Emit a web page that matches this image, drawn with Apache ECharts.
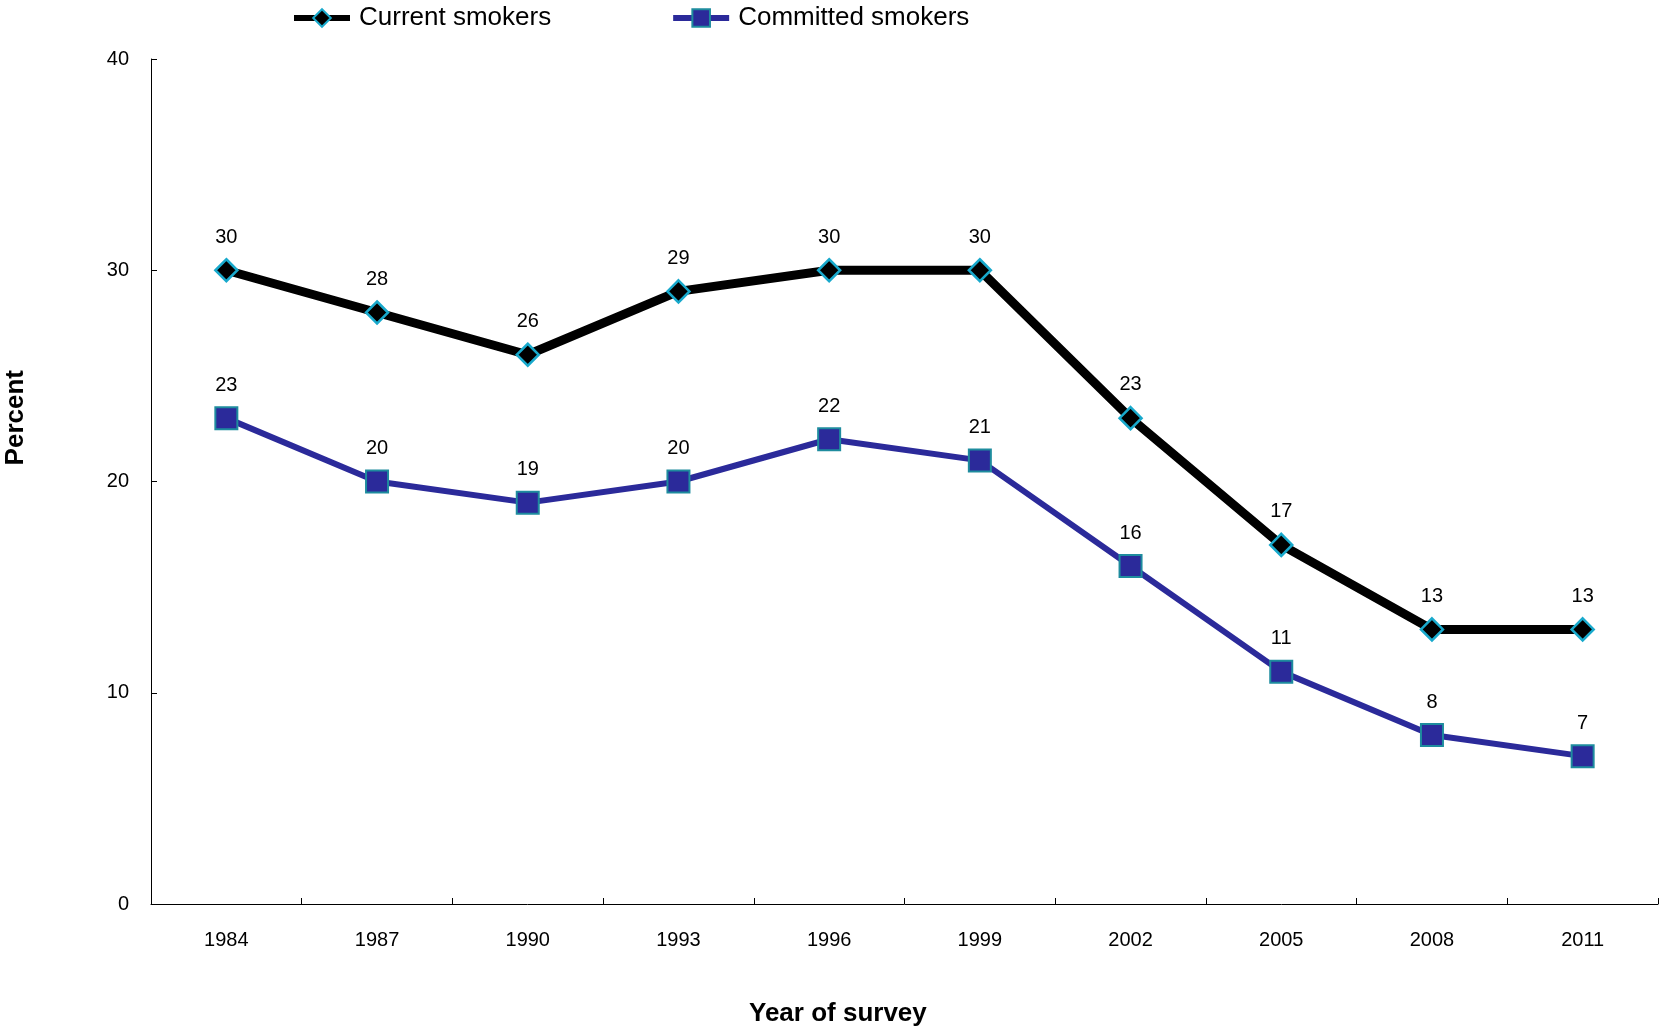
<!DOCTYPE html>
<html>
<head>
<meta charset="utf-8">
<script src="https://cdn.jsdelivr.net/npm/echarts@6/dist/echarts.min.js"></script>
<style>
  html, body { margin: 0; padding: 0; background: #fff; }
  #chart { width: 1661px; height: 1031px; }
</style>
</head>
<body>
<div id="chart"></div>
<script>
// Survey years and smoking prevalence (percent)
const years = ['1984', '1987', '1990', '1993', '1996', '1999', '2002', '2005', '2008', '2011'];
const currentSmokers = [30, 28, 26, 29, 30, 30, 23, 17, 13, 13];
const committedSmokers = [23, 20, 19, 20, 22, 21, 16, 11, 8, 7];
const yTicks = [0, 10, 20, 30, 40];

const FONT = '"Liberation Sans", Arial, sans-serif';
const BLACK = '#000';
const NAVY = '#2B2A9A';

const chart = echarts.init(document.getElementById('chart'), null, { renderer: 'canvas' });

const labelStyle = {
  show: true,
  position: 'top',
  distance: 11,
  color: '#000',
  fontFamily: FONT,
  fontSize: 20
};

chart.setOption({
  animation: false,
  backgroundColor: '#fff',
  textStyle: { fontFamily: FONT },
  legend: {
    left: 286,
    top: 0,
    itemWidth: 56,
    itemHeight: 22,
    itemGap: 119,
    textStyle: { fontFamily: FONT, fontSize: 26, color: '#000', padding: [0, 0, 0, 4] },
    data: [
      { name: 'Current smokers', lineStyle: { width: 6, color: BLACK } },
      { name: 'Committed smokers', lineStyle: { width: 6, color: NAVY } }
    ]
  },
  grid: { left: 151, right: 3, top: 59, bottom: 127 },
  xAxis: {
    type: 'category',
    data: years,
    boundaryGap: true,
    axisLine: { lineStyle: { color: '#000', width: 1 } },
    axisTick: { show: true, inside: true, length: 6, lineStyle: { color: '#000' } },
    axisLabel: { color: '#000', fontFamily: FONT, fontSize: 20, margin: 26 }
  },
  yAxis: {
    type: 'value',
    min: yTicks[0],
    max: yTicks[yTicks.length - 1],
    interval: 10,
    splitLine: { show: false },
    axisLine: { show: true, lineStyle: { color: '#000', width: 1 } },
    axisTick: { show: true, inside: true, length: 6, lineStyle: { color: '#000' } },
    axisLabel: { color: '#000', fontFamily: FONT, fontSize: 20, margin: 22 }
  },
  graphic: [
    {
      type: 'text',
      left: 3,
      top: 370,
      rotation: Math.PI / 2,
      originX: 0,
      originY: 0,
      style: {
        text: 'Percent',
        fill: '#000',
        font: 'bold 26px ' + FONT,
        textAlign: 'center',
        textVerticalAlign: 'middle'
      }
    },
    {
      type: 'text',
      left: 749,
      top: 1001,
      style: {
        text: 'Year of survey',
        fill: '#000',
        font: 'bold 26px ' + FONT
      }
    }
  ],
  series: [
    {
      name: 'Current smokers',
      type: 'line',
      data: currentSmokers,
      symbol: 'diamond',
      symbolSize: 22,
      z: 3,
      lineStyle: { color: BLACK, width: 9 },
      itemStyle: { color: BLACK, borderColor: '#18A9CC', borderWidth: 2.5 },
      label: labelStyle
    },
    {
      name: 'Committed smokers',
      type: 'line',
      data: committedSmokers,
      symbol: 'rect',
      symbolSize: 22,
      z: 2,
      lineStyle: { color: NAVY, width: 6 },
      itemStyle: { color: NAVY, borderColor: '#1E8C9E', borderWidth: 2 },
      label: labelStyle
    }
  ]
});
</script>
</body>
</html>
